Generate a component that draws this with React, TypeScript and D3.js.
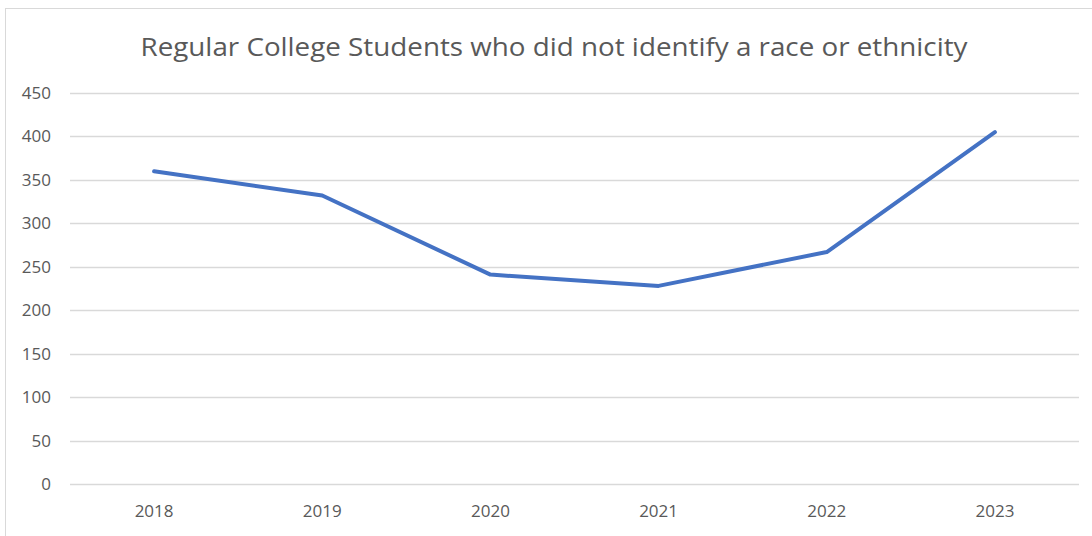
import * as d3 from 'd3';
import { useEffect, useRef } from 'react';

const years = ["2018", "2019", "2020", "2021", "2022", "2023"];
const students = [360, 332, 241, 228, 267, 405];
const yTicks = [0, 50, 100, 150, 200, 250, 300, 350, 400, 450];

const App = () => {
    const ref = useRef<SVGSVGElement>(null);
    useEffect(() => {
        drawChart();
    }, []);
    const drawChart = () => {
        const width = 1092, height = 536;
        const margin = { top: 93, right: 13, bottom: 52, left: 70 };
        const svg = d3.select(ref.current);
        svg.selectAll("*").remove();

        // chart frame (cut off on the right and bottom)
        svg.append("rect")
            .attr("x", 5.5).attr("y", 8.5)
            .attr("width", 1200).attr("height", 600)
            .attr("fill", "#fff")
            .attr("stroke", "#d9d9d9")
            .attr("stroke-width", 1);

        const x: any = d3.scaleBand()
            .domain(years)
            .range([margin.left, width - margin.right]);
        const y: any = d3.scaleLinear()
            .domain([0, 450])
            .range([height - margin.bottom, margin.top]);

        // gridlines
        svg.append("g")
            .selectAll("line")
            .data(yTicks)
            .enter().append("line")
            .attr("x1", margin.left)
            .attr("x2", width - margin.right)
            .attr("y1", (d: number) => Math.round(y(d)) + 0.5)
            .attr("y2", (d: number) => Math.round(y(d)) + 0.5)
            .attr("stroke", "#d9d9d9")
            .attr("stroke-width", 1.5);

        // y labels
        svg.append("g")
            .selectAll("text")
            .data(yTicks)
            .enter().append("text")
            .attr("x", 51)
            .attr("y", (d: number) => y(d))
            .attr("dy", "0.35em")
            .attr("text-anchor", "end")
            .style("font-family", "'Open Sans', sans-serif")
            .style("font-size", "17px")
            .attr("fill", "#595959")
            .text((d: number) => d);

        // x labels
        svg.append("g")
            .selectAll("text")
            .data(years)
            .enter().append("text")
            .attr("x", (d: string) => x(d) + x.bandwidth() / 2)
            .attr("y", 517)
            .attr("text-anchor", "middle")
            .style("font-family", "'Open Sans', sans-serif")
            .style("font-size", "17px")
            .attr("fill", "#595959")
            .text((d: string) => d);

        // line
        const line = d3.line<number>()
            .x((_d, i) => x(years[i]) + x.bandwidth() / 2)
            .y((d) => y(d));
        svg.append("path")
            .datum(students)
            .attr("d", line as any)
            .attr("fill", "none")
            .attr("stroke", "#4472C4")
            .attr("stroke-width", 4)
            .attr("stroke-linecap", "round")
            .attr("stroke-linejoin", "round");

        // title
        svg.append("text")
            .attr("x", 554)
            .attr("y", 56)
            .attr("text-anchor", "middle")
            .style("font-family", "'Open Sans', sans-serif")
            .style("font-size", "25px")
            .attr("fill", "#595959")
            .attr("textLength", 827)
            .attr("lengthAdjust", "spacingAndGlyphs")
            .text("Regular College Students who did not identify a race or ethnicity");
    };
    return (
        <svg ref={ref} width={1092} height={536}
            style={{ position: "absolute", left: 0, top: 0, background: "#fff" }} />
    );
};

export default App;
